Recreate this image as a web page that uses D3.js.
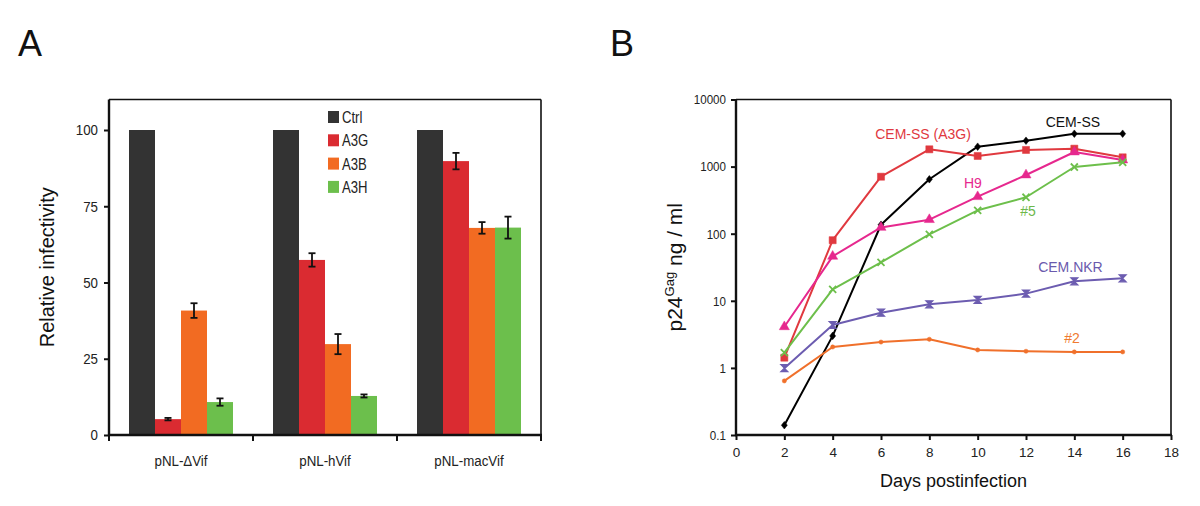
<!DOCTYPE html>
<html><head><meta charset="utf-8">
<script src="https://cdn.jsdelivr.net/npm/d3@7"></script>
<style>
html,body{margin:0;padding:0;background:#fff;}
svg{display:block;font-family:"Liberation Sans",Arial,Helvetica,sans-serif;}
</style></head>
<body>
<svg id="chart" width="1200" height="506"></svg>
<script>
// ---------- Panel A data ----------
const groups = ["pNL-\u0394Vif", "pNL-hVif", "pNL-macVif"];
const seriesA = ["Ctrl", "A3G", "A3B", "A3H"];
const ctrlVals = [100, 100, 100];
const a3gVals = [5.2, 57.4, 89.8];
const a3bVals = [40.8, 29.8, 67.9];
const a3hVals = [10.8, 12.8, 68];
const ctrlErr = [0, 0, 0];
const a3gErr = [0.4, 2.2, 2.7];
const a3bErr = [2.4, 3.3, 1.9];
const a3hErr = [1.2, 0.5, 3.6];
const yTicksA = [0, 25, 50, 75, 100];

// ---------- Panel B data ----------
const days = [2, 4, 6, 8, 10, 12, 14, 16];
const cemSS = [0.14, 3.0, 136, 647, 1980, 2430, 3090, 3090];
const cemSSA3G = [1.42, 80, 707, 1810, 1440, 1770, 1850, 1375];
const h9 = [4.1, 46, 124, 162, 356, 750, 1650, 1255];
const clone5 = [1.69, 14.8, 37.4, 98, 223, 349, 986, 1160];
const cemNKR = [0.99, 4.36, 6.65, 8.87, 10.3, 12.8, 19.5, 21.6];
const clone2 = [0.64, 2.05, 2.43, 2.67, 1.85, 1.77, 1.73, 1.73];
const xTicksB = [0, 2, 4, 6, 8, 10, 12, 14, 16, 18];
const yTicksB = [0.1, 1, 10, 100, 1000, 10000];

const svg = d3.select("#chart");
const COND = 0.86;

// ===== Panel A =====
const A = {l:109, r:541, t:99.5, b:435};
const valsA = [ctrlVals, a3gVals, a3bVals, a3hVals];
const errsA = [ctrlErr, a3gErr, a3bErr, a3hErr];
const colorsA = ["#333333", "#da2b31", "#f26b22", "#6cbf4c"];

const x0 = d3.scaleBand().domain(groups).range([A.l, A.r]).paddingInner(40/144).paddingOuter(20/144);
const x1 = d3.scaleBand().domain(seriesA).range([0, x0.bandwidth()]);
const yA = d3.scaleLinear().domain([0, 110]).range([A.b, A.t]);

const gA = svg.append("g");
seriesA.forEach((s, si) => {
  gA.selectAll(".bar" + si).data(groups).enter().append("rect")
    .attr("x", d => x0(d) + x1(s))
    .attr("width", x1.bandwidth())
    .attr("y", (d, i) => yA(valsA[si][i]))
    .attr("height", (d, i) => yA(0) - yA(valsA[si][i]))
    .attr("fill", colorsA[si]);
});
seriesA.forEach((s, si) => {
  groups.forEach((g, i) => {
    const e = errsA[si][i];
    if (!e) return;
    const cx = x0(g) + x1(s) + x1.bandwidth() / 2;
    const v = valsA[si][i];
    const eb = gA.append("g").attr("stroke", "#111").attr("stroke-width", 1.8);
    eb.append("line").attr("x1", cx).attr("x2", cx).attr("y1", yA(v - e)).attr("y2", yA(v + e));
    eb.append("line").attr("x1", cx - 3.5).attr("x2", cx + 3.5).attr("y1", yA(v - e)).attr("y2", yA(v - e));
    eb.append("line").attr("x1", cx - 3.5).attr("x2", cx + 3.5).attr("y1", yA(v + e)).attr("y2", yA(v + e));
  });
});
gA.append("line").attr("x1", A.l).attr("x2", A.r).attr("y1", A.t).attr("y2", A.t).attr("stroke", "#111").attr("stroke-width", 1.6);
gA.append("line").attr("x1", A.r).attr("x2", A.r).attr("y1", A.t).attr("y2", A.b).attr("stroke", "#111").attr("stroke-width", 1.6);
const yAxisA = gA.append("g").attr("transform", `translate(${A.l},0)`)
  .call(d3.axisLeft(yA).tickValues(yTicksA).tickSize(5).tickSizeOuter(0).tickPadding(6));
yAxisA.select(".domain").attr("stroke", "#111").attr("stroke-width", 2.4).attr("d", `M0,${A.t}V${A.b}`);
yAxisA.selectAll(".tick line").attr("stroke", "#111").attr("stroke-width", 2);
yAxisA.selectAll(".tick text").attr("font-size", 15.5).attr("fill", "#222")
  .attr("x", -11 / COND).attr("transform", `scale(${COND},1)`);
const xAxisA = gA.append("g").attr("transform", `translate(0,${A.b})`);
xAxisA.append("line").attr("x1", A.l - 1).attr("x2", A.r + 1).attr("y1", 0).attr("y2", 0).attr("stroke", "#111").attr("stroke-width", 2.4);
const bounds = groups.map(g => x0(g) - (x0.step() - x0.bandwidth()) / 2).concat([A.r]);
xAxisA.selectAll(".bt").data(bounds).enter().append("line")
  .attr("x1", d => d).attr("x2", d => d).attr("y1", 0).attr("y2", 6).attr("stroke", "#111").attr("stroke-width", 2);
xAxisA.selectAll(".cl").data(groups).enter().append("text")
  .attr("transform", d => `translate(${x0(d) + x0.bandwidth() / 2},31) scale(${COND},1)`)
  .attr("text-anchor", "middle").attr("font-size", 15.5).attr("fill", "#222").text(d => d);
const leg = gA.append("g");
seriesA.forEach((s, si) => {
  const ly = 117 + si * 23.3;
  leg.append("rect").attr("x", 328).attr("y", ly - 6).attr("width", 11).attr("height", 12).attr("fill", colorsA[si]);
  leg.append("text").attr("transform", `translate(342,${ly + 6}) scale(0.82,1)`).attr("font-size", 16).attr("fill", "#222").text(s);
});
gA.append("text").attr("transform", `translate(54,${(A.t + A.b) / 2}) rotate(-90)`)
  .attr("text-anchor", "middle").attr("font-size", 20).attr("fill", "#111").text("Relative infectivity");
svg.append("text").attr("x", 18).attr("y", 56).attr("font-size", 36).attr("fill", "#111").text("A");
svg.append("text").attr("x", 610).attr("y", 56).attr("font-size", 36).attr("fill", "#111").text("B");

// ===== Panel B =====
const B = {l:736, r:1171, t:99.5, b:435};
const xB = d3.scaleLinear().domain([0, 18]).range([B.l, B.r]);
const yB = d3.scaleLog().domain([0.1, 10000]).range([B.b, B.t]);
const gB = svg.append("g");

gB.append("line").attr("x1", B.l).attr("x2", B.r).attr("y1", B.t).attr("y2", B.t).attr("stroke", "#111").attr("stroke-width", 1.6);
gB.append("line").attr("x1", B.r).attr("x2", B.r).attr("y1", B.t).attr("y2", B.b).attr("stroke", "#111").attr("stroke-width", 1.6);

const yAxisB = gB.append("g").attr("transform", `translate(${B.l},0)`)
  .call(d3.axisLeft(yB).tickValues(yTicksB).tickFormat(d => String(d)).tickSize(5).tickSizeOuter(0));
yAxisB.select(".domain").attr("stroke", "#111").attr("stroke-width", 2.4).attr("d", `M0,${B.t}V${B.b}`);
yAxisB.selectAll(".tick line").attr("stroke", "#111").attr("stroke-width", 2);
yAxisB.selectAll(".tick text").attr("font-size", 13.5).attr("fill", "#222")
  .attr("x", -10 / COND).attr("transform", `scale(${COND},1)`);

const xAxisB = gB.append("g").attr("transform", `translate(0,${B.b})`)
  .call(d3.axisBottom(xB).tickValues(xTicksB).tickSize(5).tickSizeOuter(0).tickPadding(7));
xAxisB.select(".domain").attr("stroke", "#111").attr("stroke-width", 2.4).attr("d", `M${B.l - 1},0H${B.r + 1}`);
xAxisB.selectAll(".tick line").attr("stroke", "#111").attr("stroke-width", 2);
xAxisB.selectAll(".tick text").attr("font-size", 13.5).attr("fill", "#222");

gB.append("text").attr("x", (B.l + B.r) / 2).attr("y", 487).attr("text-anchor", "middle")
  .attr("font-size", 18).attr("fill", "#111").text("Days postinfection");
const yl = gB.append("text").attr("transform", `translate(682,${(B.t + B.b) / 2}) rotate(-90)`)
  .attr("text-anchor", "middle").attr("font-size", 21).attr("fill", "#111");
yl.append("tspan").text("p24");
yl.append("tspan").attr("font-size", 13).attr("dy", -8).text("Gag");
yl.append("tspan").attr("dy", 8).text(" ng / ml");

const seriesB = [
  {name:"CEM-SS", vals:cemSS, color:"#000000", mk:"diamond"},
  {name:"CEM-SS (A3G)", vals:cemSSA3G, color:"#e0393f", mk:"square"},
  {name:"H9", vals:h9, color:"#e6288e", mk:"triangle"},
  {name:"#5", vals:clone5, color:"#6dbf4b", mk:"x"},
  {name:"CEM.NKR", vals:cemNKR, color:"#6c5cb0", mk:"hourglass"},
  {name:"#2", vals:clone2, color:"#f0702b", mk:"dot"}
];
const line = d3.line().x(d => xB(d[0])).y(d => yB(d[1]));
const symPath = {
  diamond: "M0,-3.8L3,0L0,3.8L-3,0Z",
  square: d3.symbol().type(d3.symbolSquare).size(50)(),
  triangle: d3.symbol().type(d3.symbolTriangle).size(44)(),
  x: d3.symbol().type(d3.symbolTimes).size(34)(),
  hourglass: "M-3.5,-3.5L3.5,-3.5L-3.5,3.5L3.5,3.5Z",
  dot: d3.symbol().type(d3.symbolCircle).size(14)()
};
seriesB.forEach(s => {
  const pts = days.map((d, i) => [d, s.vals[i]]);
  gB.append("path").datum(pts).attr("d", line).attr("fill", "none")
    .attr("stroke", s.color).attr("stroke-width", 2).attr("stroke-linejoin", "round");
  gB.selectAll(null).data(pts).enter().append("path")
    .attr("transform", d => `translate(${xB(d[0])},${yB(d[1])})`)
    .attr("d", symPath[s.mk])
    .attr("fill", s.mk === "x" ? "none" : s.color)
    .attr("stroke", s.color)
    .attr("stroke-width", s.mk === "x" ? 1.8 : (s.mk === "hourglass" ? 1.2 : 0.5));
});
const annDays = [13.94, 7.74, 9.8, 12.08, 13.84, 13.9];
const annVals = [4624, 3027, 570, 218, 31.9, 2.79];
const annColors = ["#111111", "#e0393f", "#e6288e", "#6db84a", "#6a5aad", "#f07a30"];
seriesB.forEach((s, i) => {
  gB.append("text").attr("x", xB(annDays[i])).attr("y", yB(annVals[i])).attr("dy", "0.36em")
    .attr("text-anchor", "middle").attr("font-size", 14).attr("fill", annColors[i]).text(s.name);
});
</script>
</body></html>
